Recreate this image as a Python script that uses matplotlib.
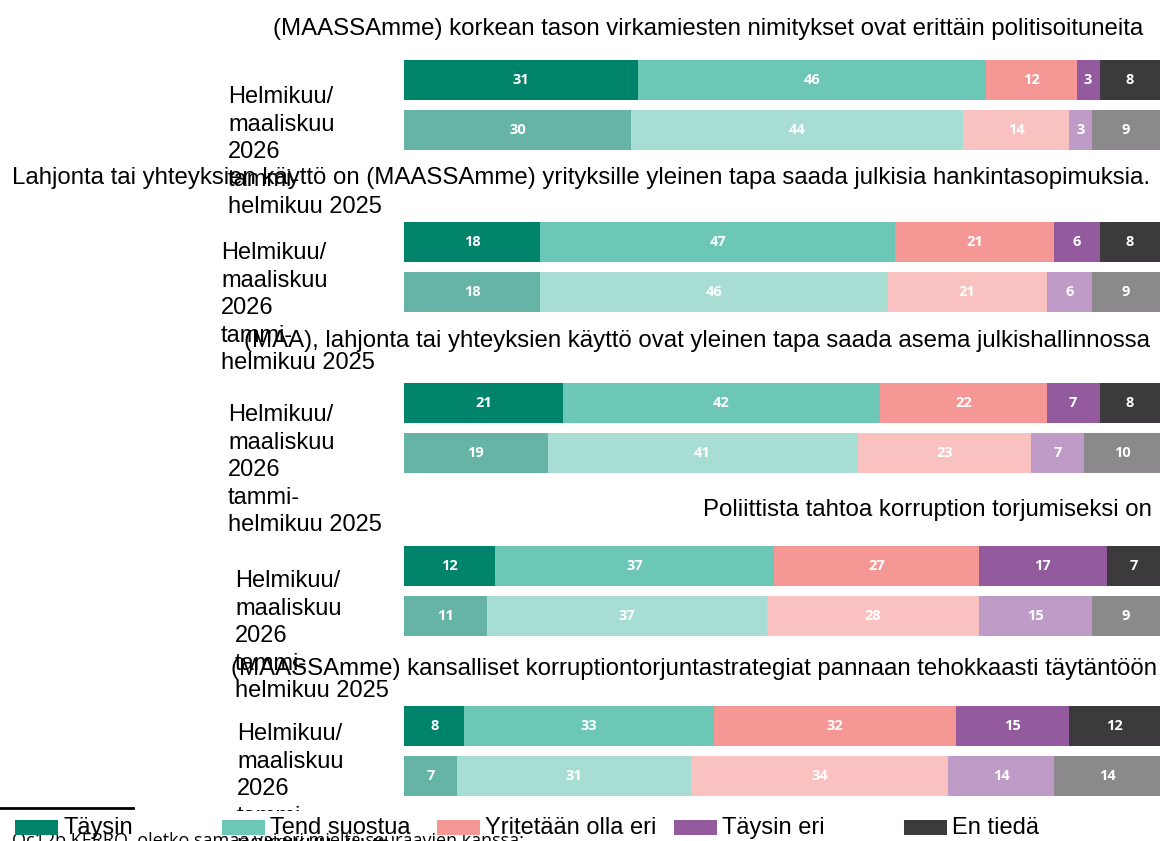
import matplotlib.pyplot as plt
from matplotlib.patches import Rectangle

plt.rcParams['font.family'] = ['Liberation Sans', 'DejaVu Sans']

titles = [
    '(MAASSAmme) korkean tason virkamiesten nimitykset ovat erittäin politisoituneita',
    'Lahjonta tai yhteyksien käyttö on (MAASSAmme) yrityksille yleinen tapa saada julkisia hankintasopimuksia.',
    '(MAA), lahjonta tai yhteyksien käyttö ovat yleinen tapa saada asema julkishallinnossa',
    'Poliittista tahtoa korruption torjumiseksi on',
    '(MAASSAmme) kansalliset korruptiontorjuntastrategiat pannaan tehokkaasti täytäntöön',
]
periods = ['Helmikuu/\nmaaliskuu\n2026', 'tammi-\nhelmikuu 2025']
categories = ['Täysin', 'Tend suostua', 'Yritetään olla eri', 'Täysin eri', 'En tiedä']
values_2026 = [
    [31, 46, 12, 3, 8],
    [18, 47, 21, 6, 8],
    [21, 42, 22, 7, 8],
    [12, 37, 27, 17, 7],
    [8, 33, 32, 15, 12],
]
values_2025 = [
    [30, 44, 14, 3, 9],
    [18, 46, 21, 6, 9],
    [19, 41, 23, 7, 10],
    [11, 37, 28, 15, 9],
    [7, 31, 34, 14, 14],
]
footnote = 'Qc12b KERRO, oletko samaa vai eri mieltä seuraavien kanssa:'

colors_2026 = ['#00836B', '#6CC7B6', '#F59794', '#935A9D', '#3D3A3E']
colors_2025 = ['#66B4A6', '#A8DDD4', '#F9C1C0', '#BF9BC7', '#8B898B']

# layout, in pixels of the 1160x841 canvas
W, H = 1160, 841
bar_top = [60, 222, 383, 546, 706]
title_y = [29, 178, 341, 510, 669]
title_right = [1143, 1150, 1150, 1152, 1157]
label_x = [228, 221, 228, 235, 237]
label_top = [86, 242, 404, 570, 723]
legend_x = [15, 222, 437, 674, 904]


def fx(x):
    return x / W


def fy(y):
    return 1 - y / H


fig = plt.figure(figsize=(11.6, 8.41), dpi=100)

for i, title in enumerate(titles):
    ax = fig.add_axes([fx(404), fy(bar_top[i] + 90), 756 / W, 90 / H])
    for row, (vals, cols) in enumerate([(values_2026[i], colors_2026),
                                        (values_2025[i], colors_2025)]):
        left = 0
        for v, c in zip(vals, cols):
            ax.barh(row, v, left=left, height=0.8, color=c, linewidth=0)
            ax.text(left + v / 2, row, str(v), ha='center', va='center',
                    color='white', fontsize=10.5, fontweight='bold',
                    family=['Open Sans', 'DejaVu Sans'])
            left += v
    ax.set_xlim(0, 100)
    ax.set_ylim(1.4, -0.4)
    ax.axis('off')

    fig.text(fx(title_right[i]), fy(title_y[i]), title, ha='right', va='center',
             fontsize=17.25, zorder=3)
    fig.text(fx(label_x[i]), fy(label_top[i]), periods[0] + '\n' + periods[1],
             ha='left', va='top', fontsize=17, linespacing=1.33, zorder=3)

# white band under the last panel, footnote and legend
fig.add_artist(Rectangle((0, fy(838)), 1, (838 - 811) / H, transform=fig.transFigure,
                         facecolor='white', edgecolor='none', zorder=4))
fig.add_artist(plt.Line2D([0, fx(133)], [fy(808), fy(808)], transform=fig.transFigure,
                          color='black', linewidth=2, zorder=5))
fig.text(fx(12), fy(832), footnote, ha='left', va='top', fontsize=13,
         family=['Open Sans', 'DejaVu Sans'], zorder=5)

for x0, label, c in zip(legend_x, categories, colors_2026):
    fig.add_artist(Rectangle((fx(x0), fy(835)), 43 / W, 15 / H, transform=fig.transFigure,
                             facecolor=c, edgecolor='none', zorder=6))
    fig.text(fx(x0 + 48), fy(828), label, ha='left', va='center', fontsize=17, zorder=6)

fig.savefig('out.png', dpi=100)
